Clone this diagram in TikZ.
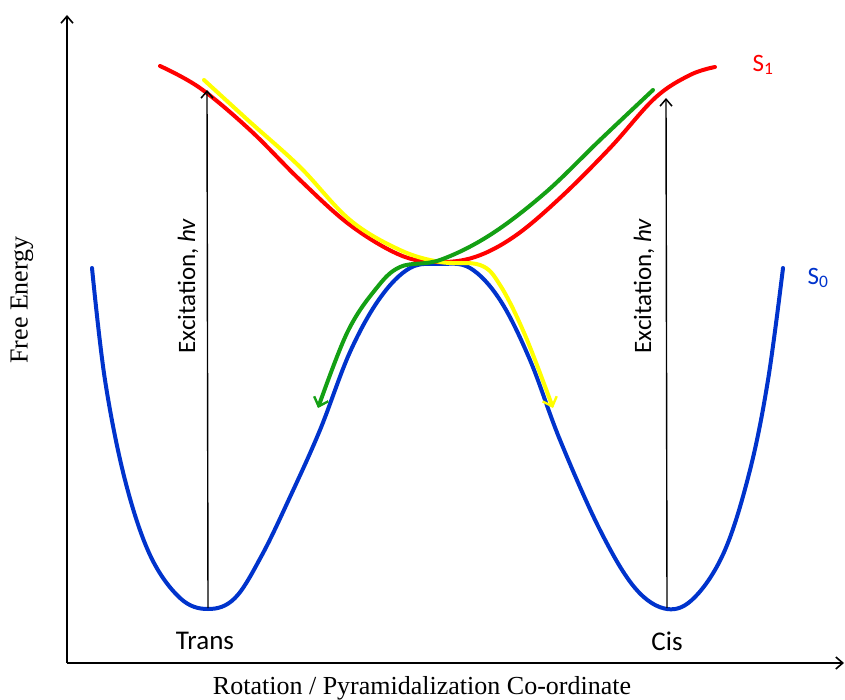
\documentclass[tikz,border=0pt]{standalone}
\usepackage{fontspec}
\setmainfont{Liberation Serif}
\newfontfamily\calibri{Carlito}
\usetikzlibrary{arrows.meta}
\definecolor{sred}{RGB}{255,0,0}
\definecolor{sblue}{RGB}{0,51,204}
\definecolor{sgreen}{RGB}{20,160,20}
\definecolor{syellow}{RGB}{255,255,0}
\tikzset{
  axisline/.style={line width=2pt,-{Straight Barb[length=7pt,width=12pt,line width=1.6pt]}},
  exarrow/.style={line width=1.4pt,-{Straight Barb[length=7pt,width=12pt,line width=1.5pt]}},
  curve/.style={line width=4pt,line cap=round,line join=round},
  pathtip/.style={-{Straight Barb[length=8pt,width=15pt,line width=2.4pt]}},
  sanslabel/.style={font=\calibri\fontsize{25}{29}\selectfont,inner sep=0pt},
  bigsans/.style={font=\calibri\fontsize{27}{31}\selectfont,inner sep=0pt},
  seriflabel/.style={font=\fontsize{26}{31}\selectfont,inner sep=0pt}
}
\begin{document}
\begin{tikzpicture}[x=1pt,y=-1pt]
\useasboundingbox (0,0) rectangle (845,700);
% axes
\coordinate (origin) at (67,663);
\coordinate (ytop) at (67,15);
\coordinate (xend) at (844,663);
\draw[axisline] (origin) -- (ytop);
\draw[axisline] (origin) -- (xend);
% S0 (blue)
\draw[curve,sblue] plot[smooth,tension=0.6] coordinates {
 (92,268) (105,380) (125,480) (150,555) (180,598) (208,609) (235,598) (262,555)
 (290,497) (320,430) (350,352) (380,298) (410,268) (440,264) (470,268) (500,300)
 (530,360) (560,440) (600,530) (635,588) (667,609) (695,597) (725,550) (750,470)
 (768,380) (783,268)};
% S1 (red)
\draw[curve,sred] plot[smooth,tension=0.6] coordinates {
 (160,66) (200,88) (250,130) (300,180) (350,225) (400,255) (437,262) (475,257)
 (515,236) (560,198) (610,148) (655,98) (690,75) (715,67)};
% yellow path
\draw[curve,syellow,pathtip] plot[smooth,tension=0.6] coordinates {
 (204,80) (250,122) (300,167) (350,220) (400,250) (440,262) (480,265) (500,285)
 (525,335) (553,408)};
% green path
\draw[curve,sgreen,pathtip] plot[smooth,tension=0.6] coordinates {
 (653,90) (600,140) (545,193) (490,235) (440,260) (400,267) (375,290) (347,333)
 (318,408)};
% excitation arrows
\coordinate (transmin) at (208,608);
\coordinate (transup) at (207,90);
\coordinate (cismin) at (667,608);
\coordinate (cisup) at (666,98);
\draw[exarrow] (transmin) -- (transup);
\draw[exarrow] (cismin) -- (cisup);
% labels
\node[sanslabel,rotate=90] (exleft) at (188,286) {Excitation, \textit{hv}};
\node[sanslabel,rotate=90] (exright) at (644,286) {Excitation, \textit{hv}};
\node[bigsans] (trans) at (205,641) {Trans};
\node[bigsans] (cis) at (667,641) {Cis};
\node[sanslabel,text=sred] (s1) at (763,65) {S\textsubscript{1}};
\node[sanslabel,text=sblue] (s0) at (818,278) {S\textsubscript{0}};
\node[seriflabel,rotate=90] (ylab) at (22,300) {Free Energy};
\node[seriflabel] (xlab) at (422,688) {Rotation / Pyramidalization Co-ordinate};
\end{tikzpicture}
\end{document}
